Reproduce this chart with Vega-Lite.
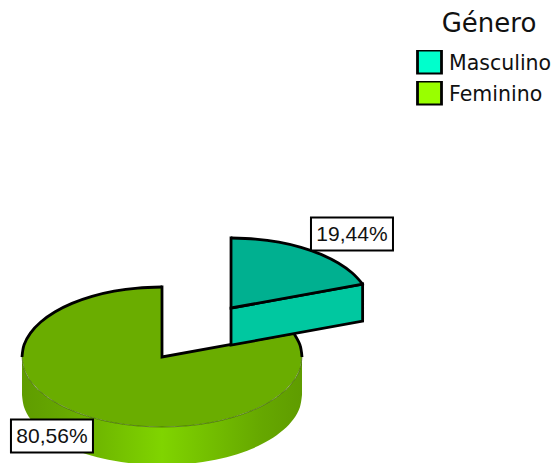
{"$schema":"https://vega.github.io/schema/vega-lite/v6.json","width":555,"height":463,"autosize":"none","padding":0,"background":"white","config":{"view":{"stroke":null}},
"datasets":{"slices":[{"Género":"Masculino","pct":19.44,"label":"19,44%","u":1.357,"v":1.757},{"Género":"Feminino","pct":80.56,"label":"80,56%","u":-0.786,"v":-1.129}],
"shape":[
{"part":"wall","i":0,"u":-1,"v":0,"b":-0.543},{"part":"wall","i":1,"u":-0.985,"v":-0.174,"b":-0.717},{"part":"wall","i":2,"u":-0.94,"v":-0.342,"b":-0.885},{"part":"wall","i":3,"u":-0.866,"v":-0.5,"b":-1.043},{"part":"wall","i":4,"u":-0.766,"v":-0.643,"b":-1.186},{"part":"wall","i":5,"u":-0.643,"v":-0.766,"b":-1.309},{"part":"wall","i":6,"u":-0.5,"v":-0.866,"b":-1.409},{"part":"wall","i":7,"u":-0.342,"v":-0.94,"b":-1.483},{"part":"wall","i":8,"u":-0.174,"v":-0.985,"b":-1.528},{"part":"wall","i":9,"u":0,"v":-1,"b":-1.543},{"part":"wall","i":10,"u":0.174,"v":-0.985,"b":-1.528},{"part":"wall","i":11,"u":0.342,"v":-0.94,"b":-1.483},{"part":"wall","i":12,"u":0.5,"v":-0.866,"b":-1.409},{"part":"wall","i":13,"u":0.643,"v":-0.766,"b":-1.309},{"part":"wall","i":14,"u":0.766,"v":-0.643,"b":-1.186},{"part":"wall","i":15,"u":0.866,"v":-0.5,"b":-1.043},{"part":"wall","i":16,"u":0.94,"v":-0.342,"b":-0.885},{"part":"wall","i":17,"u":0.985,"v":-0.174,"b":-0.717},{"part":"wall","i":18,"u":1,"v":0,"b":-0.543},
{"part":"top","i":0,"u":0,"v":0},{"part":"top","i":1,"u":0,"v":1},{"part":"top","i":2,"u":-0.174,"v":0.985},{"part":"top","i":3,"u":-0.342,"v":0.94},{"part":"top","i":4,"u":-0.5,"v":0.866},{"part":"top","i":5,"u":-0.643,"v":0.766},{"part":"top","i":6,"u":-0.766,"v":0.643},{"part":"top","i":7,"u":-0.866,"v":0.5},{"part":"top","i":8,"u":-0.94,"v":0.342},{"part":"top","i":9,"u":-0.985,"v":0.174},{"part":"top","i":10,"u":-1,"v":0},{"part":"top","i":11,"u":-0.985,"v":-0.174},{"part":"top","i":12,"u":-0.94,"v":-0.342},{"part":"top","i":13,"u":-0.866,"v":-0.5},{"part":"top","i":14,"u":-0.766,"v":-0.643},{"part":"top","i":15,"u":-0.643,"v":-0.766},{"part":"top","i":16,"u":-0.5,"v":-0.866},{"part":"top","i":17,"u":-0.342,"v":-0.94},{"part":"top","i":18,"u":-0.174,"v":-0.985},{"part":"top","i":19,"u":0,"v":-1},{"part":"top","i":20,"u":0.174,"v":-0.985},{"part":"top","i":21,"u":0.342,"v":-0.94},{"part":"top","i":22,"u":0.5,"v":-0.866},{"part":"top","i":23,"u":0.643,"v":-0.766},{"part":"top","i":24,"u":0.766,"v":-0.643},{"part":"top","i":25,"u":0.866,"v":-0.5},{"part":"top","i":26,"u":0.94,"v":-0.342},{"part":"top","i":27,"u":0.985,"v":-0.174},{"part":"top","i":28,"u":1,"v":0},{"part":"top","i":29,"u":0.985,"v":0.174},{"part":"top","i":30,"u":0.94,"v":0.342},
{"part":"rim","i":0,"u":-1,"v":0},{"part":"rim","i":1,"u":-0.985,"v":-0.174},{"part":"rim","i":2,"u":-0.94,"v":-0.342},{"part":"rim","i":3,"u":-0.866,"v":-0.5},{"part":"rim","i":4,"u":-0.766,"v":-0.643},{"part":"rim","i":5,"u":-0.643,"v":-0.766},{"part":"rim","i":6,"u":-0.5,"v":-0.866},{"part":"rim","i":7,"u":-0.342,"v":-0.94},{"part":"rim","i":8,"u":-0.174,"v":-0.985},{"part":"rim","i":9,"u":0,"v":-1},{"part":"rim","i":10,"u":0.174,"v":-0.985},{"part":"rim","i":11,"u":0.342,"v":-0.94},{"part":"rim","i":12,"u":0.5,"v":-0.866},{"part":"rim","i":13,"u":0.643,"v":-0.766},{"part":"rim","i":14,"u":0.766,"v":-0.643},{"part":"rim","i":15,"u":0.866,"v":-0.5},{"part":"rim","i":16,"u":0.94,"v":-0.342},{"part":"rim","i":17,"u":0.985,"v":-0.174},{"part":"rim","i":18,"u":1,"v":0},
{"part":"arcLeft","i":0,"u":-1,"v":0},{"part":"arcLeft","i":1,"u":-0.985,"v":0.174},{"part":"arcLeft","i":2,"u":-0.94,"v":0.342},{"part":"arcLeft","i":3,"u":-0.866,"v":0.5},{"part":"arcLeft","i":4,"u":-0.766,"v":0.643},{"part":"arcLeft","i":5,"u":-0.643,"v":0.766},{"part":"arcLeft","i":6,"u":-0.5,"v":0.866},{"part":"arcLeft","i":7,"u":-0.342,"v":0.94},{"part":"arcLeft","i":8,"u":-0.174,"v":0.985},{"part":"arcLeft","i":9,"u":0,"v":1},
{"part":"cut","i":0,"u":0,"v":1},{"part":"cut","i":1,"u":0,"v":0},{"part":"cut","i":2,"u":0.94,"v":0.342},
{"part":"arcRight","i":0,"u":0.94,"v":0.342},{"part":"arcRight","i":1,"u":0.985,"v":0.174},{"part":"arcRight","i":2,"u":1,"v":0},
{"part":"tealFront","i":0,"u":0.493,"v":0.7},{"part":"tealFront","i":1,"u":1.433,"v":1.042},{"part":"tealFront","i":2,"u":1.433,"v":0.512},{"part":"tealFront","i":3,"u":0.493,"v":0.17},
{"part":"tealTop","i":0,"u":0.493,"v":0.7},{"part":"tealTop","i":1,"u":0.493,"v":1.7},{"part":"tealTop","i":2,"u":0.667,"v":1.685},{"part":"tealTop","i":3,"u":0.835,"v":1.64},{"part":"tealTop","i":4,"u":0.993,"v":1.566},{"part":"tealTop","i":5,"u":1.136,"v":1.466},{"part":"tealTop","i":6,"u":1.259,"v":1.343},{"part":"tealTop","i":7,"u":1.359,"v":1.2},{"part":"tealTop","i":8,"u":1.433,"v":1.042},
{"part":"tealEdge","i":0,"u":1.433,"v":1.042},{"part":"tealEdge","i":1,"u":0.493,"v":0.7},{"part":"tealEdge","i":2,"u":0.493,"v":1.7},
{"part":"tealArc","i":0,"u":0.493,"v":1.7},{"part":"tealArc","i":1,"u":0.667,"v":1.685},{"part":"tealArc","i":2,"u":0.835,"v":1.64},{"part":"tealArc","i":3,"u":0.993,"v":1.566},{"part":"tealArc","i":4,"u":1.136,"v":1.466},{"part":"tealArc","i":5,"u":1.259,"v":1.343},{"part":"tealArc","i":6,"u":1.359,"v":1.2},{"part":"tealArc","i":7,"u":1.433,"v":1.042}
]},
"encoding":{"x":{"field":"u","type":"quantitative","axis":null,"scale":{"domain":[-1.15714,2.80714],"nice":false,"zero":false}},"y":{"field":"v","type":"quantitative","axis":null,"scale":{"domain":[-1.51429,5.1],"nice":false,"zero":false}}},
"layer":[
{"data":{"name":"shape"},"transform":[{"filter":"datum.part==='wall'"}],"mark":{"type":"area","interpolate":"cardinal","color":{"x1":0,"y1":0,"x2":1,"y2":0,"gradient":"linear","stops":[{"offset":0,"color":"#5F9C00"},{"offset":0.15,"color":"#66A800"},{"offset":0.5,"color":"#80D400"},{"offset":0.85,"color":"#66A800"},{"offset":1,"color":"#5F9C00"}]}},"encoding":{"y":{"field":"v","type":"quantitative","stack":null},"y2":{"field":"b"}}},
{"data":{"name":"shape"},"transform":[{"filter":"datum.part==='top'"}],"mark":{"type":"line","interpolate":"linear-closed","strokeWidth":0,"stroke":null,"fill":"#6AAD00"},"encoding":{"order":{"field":"i","type":"quantitative"}}},
{"data":{"name":"shape"},"transform":[{"filter":"datum.part==='rim'"}],"mark":{"type":"line","interpolate":"cardinal","stroke":"#2F4D00","strokeWidth":0.6},"encoding":{"order":{"field":"i","type":"quantitative"}}},
{"data":{"name":"shape"},"transform":[{"filter":"datum.part==='arcLeft'"}],"mark":{"type":"line","interpolate":"cardinal","stroke":"black","strokeWidth":2.8},"encoding":{"order":{"field":"i","type":"quantitative"}}},
{"data":{"name":"shape"},"transform":[{"filter":"datum.part==='arcRight'"}],"mark":{"type":"line","interpolate":"cardinal","stroke":"black","strokeWidth":2.8},"encoding":{"order":{"field":"i","type":"quantitative"}}},
{"data":{"name":"shape"},"transform":[{"filter":"datum.part==='cut'"}],"mark":{"type":"line","stroke":"black","strokeWidth":2.8,"strokeJoin":"miter","strokeCap":"square"},"encoding":{"order":{"field":"i","type":"quantitative"}}},
{"data":{"name":"shape"},"transform":[{"filter":"datum.part==='tealFront'"}],"mark":{"type":"line","interpolate":"linear-closed","stroke":"black","strokeWidth":2.8,"fill":"#00C8A0"},"encoding":{"order":{"field":"i","type":"quantitative"}}},
{"data":{"name":"shape"},"transform":[{"filter":"datum.part==='tealTop'"}],"mark":{"type":"line","interpolate":"linear-closed","strokeWidth":0,"stroke":null,"fill":"#00B090"},"encoding":{"order":{"field":"i","type":"quantitative"}}},
{"data":{"name":"shape"},"transform":[{"filter":"datum.part==='tealEdge'"}],"mark":{"type":"line","stroke":"black","strokeWidth":2.8,"strokeJoin":"miter","strokeCap":"square"},"encoding":{"order":{"field":"i","type":"quantitative"}}},
{"data":{"name":"shape"},"transform":[{"filter":"datum.part==='tealArc'"}],"mark":{"type":"line","interpolate":"cardinal","stroke":"black","strokeWidth":2.8},"encoding":{"order":{"field":"i","type":"quantitative"}}},
{"data":{"name":"slices"},"mark":{"type":"rect","width":82,"height":33,"fill":"white","stroke":"black","strokeWidth":2}},
{"data":{"name":"slices"},"mark":{"type":"text","font":"Liberation Sans","fontSize":21,"align":"center","baseline":"middle","dy":1,"color":"#111111"},"encoding":{"text":{"field":"label"}}},
{"data":{"name":"slices"},"mark":{"type":"point","filled":true,"size":0,"shape":"square"},"encoding":{"color":{"field":"Género","type":"nominal","sort":["Masculino","Feminino"],"scale":{"domain":["Masculino","Feminino"],"range":["#00FFCC","#99FF00"]},"legend":{"orient":"none","legendX":416,"legendY":11,"title":"Género","titleFont":"DejaVu Sans","titleFontSize":26,"titleFontWeight":"normal","titleColor":"#111111","titleAnchor":"middle","titlePadding":13,"labelFont":"DejaVu Sans","labelFontSize":20.5,"labelColor":"#111111","labelOffset":6,"symbolType":"square","symbolSize":576,"symbolStrokeColor":"black","symbolStrokeWidth":2.8,"symbolOpacity":1,"rowPadding":6,"clipHeight":24,"encode":{"title":{"update":{"dx":{"value":5}}},"labels":{"update":{"dy":{"value":2}}}}}}}}
]}
